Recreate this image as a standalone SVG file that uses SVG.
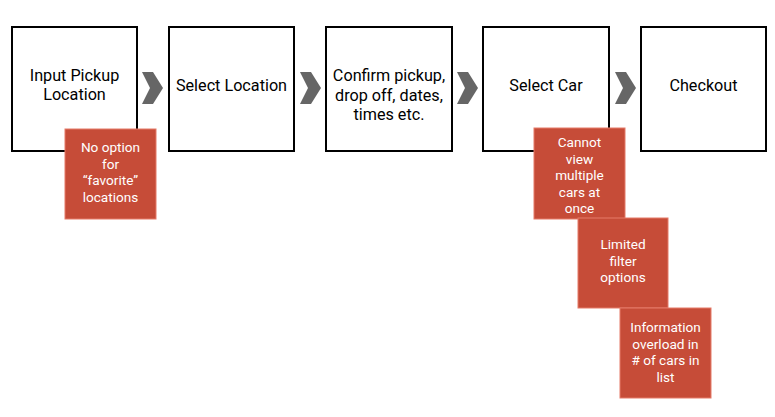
<svg xmlns="http://www.w3.org/2000/svg" width="775" height="417" viewBox="0 0 775 417">
<style>
.step{fill:#fff;stroke:#000;stroke-width:2}
.st{font-family:Roboto,"Liberation Sans",sans-serif;font-size:16.2px;fill:#000;text-anchor:middle;dominant-baseline:central}
.pain{fill:#c64c38;stroke:#e57a68;stroke-width:1}
.pt{font-family:Roboto,"Liberation Sans",sans-serif;font-size:13.6px;fill:#fff;text-anchor:middle;dominant-baseline:central}
.chev{fill:#666}
</style>
<rect width="775" height="417" fill="#fff"/>
<g id="connectors">
<polygon class="chev" points="142,72 153,72 163,88 153,104 142,104 150,88"/>
<polygon class="chev" points="300,72 311,72 321,88 311,104 300,104 308,88"/>
<polygon class="chev" points="457,72 468,72 478,88 468,104 457,104 465,88"/>
<polygon class="chev" points="615,72 626,72 636,88 626,104 615,104 623,88"/>
</g>
<g id="step1"><rect class="step" x="12" y="27" width="125" height="124"/><text class="st" x="74.5" y="75">Input Pickup</text><text class="st" x="74.5" y="94">Location</text></g>
<g id="step2"><rect class="step" x="169" y="27" width="125" height="124"/><text class="st" x="231.5" y="85">Select Location</text></g>
<g id="step3"><rect class="step" x="326" y="27" width="126" height="124"/><text class="st" x="389" y="75">Confirm pickup,</text><text class="st" x="389" y="95">drop off, dates,</text><text class="st" x="389" y="114">times etc.</text></g>
<g id="step4"><rect class="step" x="483" y="27" width="126" height="124"/><text class="st" x="546" y="85">Select Car</text></g>
<g id="step5"><rect class="step" x="641" y="27" width="125" height="124"/><text class="st" x="703.5" y="85">Checkout</text></g>
<g id="pain1"><rect class="pain" x="65" y="129" width="91" height="90"/><text class="pt" x="110.5" y="147">No option</text><text class="pt" x="110.5" y="163.5">for</text><text class="pt" x="110.5" y="180">“favorite”</text><text class="pt" x="110.5" y="197">locations</text></g>
<g id="pain2"><rect class="pain" x="534" y="128" width="91" height="91"/><text class="pt" x="579.5" y="142">Cannot</text><text class="pt" x="579.5" y="158.5">view</text><text class="pt" x="579.5" y="175">multiple</text><text class="pt" x="579.5" y="191.5">cars at</text><text class="pt" x="579.5" y="208">once</text></g>
<g id="pain3"><rect class="pain" x="578" y="218" width="90" height="90"/><text class="pt" x="623" y="244">Limited</text><text class="pt" x="623" y="260.5">filter</text><text class="pt" x="623" y="277">options</text></g>
<g id="pain4"><rect class="pain" x="620" y="308" width="91" height="90"/><text class="pt" x="665.5" y="327">Information</text><text class="pt" x="665.5" y="343.5">overload in</text><text class="pt" x="665.5" y="360"># of cars in</text><text class="pt" x="665.5" y="377">list</text></g>
</svg>
